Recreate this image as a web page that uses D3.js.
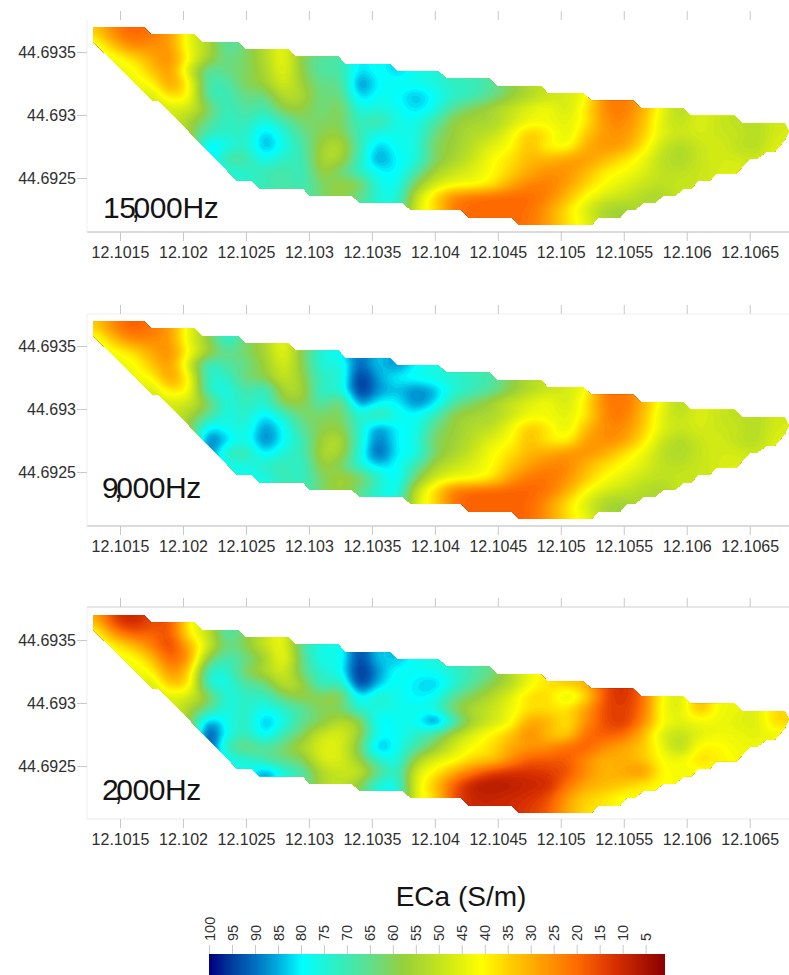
<!DOCTYPE html>
<html>
<head>
<meta charset="utf-8">
<script src="https://cdn.jsdelivr.net/npm/d3@7"></script>
<style>
html, body { margin: 0; padding: 0; background: #fff; overflow: hidden; }
text { font-family: "Liberation Sans", Arial, sans-serif; }
</style>
</head>
<body>
<div id="chart"></div>
<script>
// ticks
const lonTicks = [12.1015, 12.102, 12.1025, 12.103, 12.1035, 12.104, 12.1045, 12.105, 12.1055, 12.106, 12.1065];
const latTicks = [44.6935, 44.693, 44.6925];
const legendTicks = [100, 95, 90, 85, 80, 75, 70, 65, 60, 55, 50, 45, 40, 35, 30, 25, 20, 15, 10, 5];

// ECa readings on a regular grid. Each row only holds the cells in the field, rowStarts says where it begins
const gridLons = [12.1013, 12.10145, 12.1016, 12.10175, 12.1019, 12.10205, 12.1022, 12.10235, 12.1025, 12.10265, 12.1028, 12.10295, 12.1031,
  12.10325, 12.1034, 12.10355, 12.1037, 12.10385, 12.104, 12.10415, 12.1043, 12.10445, 12.1046, 12.10475, 12.1049, 12.10505, 12.1052,
  12.10535, 12.1055, 12.10565, 12.1058, 12.10595, 12.1061, 12.10625, 12.1064, 12.10655, 12.1067];
const gridLats = [44.69365, 44.69355, 44.69345, 44.69335, 44.69325, 44.69315, 44.69305, 44.69295, 44.69285, 44.69275, 44.69265, 44.69255,
  44.69245, 44.69235, 44.69225, 44.69215];
const rowStarts = [0, 0, 1, 2, 3, 3, 4, 5, 5, 6, 7, 7, 9, 14, 17, 23];

const eca15000 = [
  [36,24,19,22],
  [46,33,24,26,27,46,54,70],
  [44,38,30,24,42,56,66,62,54,42,62,68,68],
  [44,34,26,50,70,64,62,56,43,60,70,68,84,78,85,78,76],
  [42,26,40,72,70,60,58,46,58,66,64,92,80,78,78,76,72,72,68],
  [50,36,40,72,72,64,66,52,54,66,62,86,78,80,86,80,74,72,66,60,54,50,48,44],
  [48,48,60,74,66,72,58,58,66,58,78,76,78,84,78,66,60,56,50,46,42,50,38,24,22,30,44,55],
  [56,66,74,70,78,70,62,62,60,74,66,78,78,70,58,56,56,50,44,44,46,40,26,24,32,47,52,46,50,52],
  [58,72,74,72,86,76,66,60,58,72,78,78,78,64,58,54,52,44,33,38,48,34,27,26,34,46,50,47,50,50,54,48],
  [86,78,72,88,78,70,56,52,70,86,78,78,60,58,52,46,42,32,42,44,30,27,28,38,50,55,50,47,52,54,46],
  [66,68,80,72,72,54,54,72,90,80,78,62,56,50,42,38,32,32,28,27,32,38,44,52,56,50,48,48,50],
  [76,74,70,68,74,56,64,74,80,82,70,56,50,46,42,36,30,26,26,32,40,42,46,52,52,50,48,46],
  [72,68,72,62,58,58,78,80,60,48,44,44,40,30,24,23,28,36,42,46,50,52,50,50],
  [66,76,78,50,36,24,21,20,20,20,24,32,42,48,50,54,56],
  [46,38,22,20,20,20,21,28,38,48,56,58],
  [22,28,38,44]
];
const eca9000 = [
  [36,24,18,22],
  [46,33,24,25,27,46,58,78],
  [44,38,30,24,42,56,66,62,56,42,62,76,80],
  [44,34,26,50,76,68,66,58,46,60,78,74,94,82,90,80,78],
  [42,26,40,76,74,62,60,48,58,74,72,100,86,80,78,76,74,72,70],
  [50,36,40,76,78,68,76,54,54,76,74,100,88,84,90,86,76,72,68,60,54,50,48,44],
  [48,48,60,78,70,76,58,58,72,58,92,80,80,90,84,68,62,56,50,46,42,50,38,23,21,30,44,55],
  [56,66,78,72,84,74,62,62,60,76,66,78,80,72,58,56,56,50,44,44,46,40,24,22,32,47,52,46,50,52],
  [58,84,78,74,90,80,66,60,58,74,90,80,80,64,58,54,52,44,33,38,48,32,25,25,34,46,50,47,50,50,54,48],
  [94,84,76,92,80,72,56,52,74,92,80,78,60,58,52,46,42,32,40,42,28,25,27,38,50,55,50,47,52,54,46],
  [70,68,84,74,72,54,54,76,96,80,80,62,56,50,42,38,32,30,26,26,30,38,44,52,56,50,48,48,50],
  [78,78,72,70,76,56,62,76,84,80,70,56,50,46,42,34,28,24,24,32,38,42,46,52,52,50,48,46],
  [78,70,74,62,56,58,72,84,62,48,44,44,40,28,22,21,26,34,42,46,50,52,50,50],
  [66,76,80,50,36,22,19,19,19,19,22,30,42,48,50,54,56],
  [46,38,21,19,19,19,20,27,38,48,56,58],
  [20,27,38,44]
];
const eca2000 = [
  [32,14,9,16],
  [46,26,18,20,16,42,50,72],
  [42,34,24,13,30,48,66,60,50,42,70,78,76],
  [44,34,18,26,62,72,66,58,40,66,80,76,98,82,86,78,76],
  [42,24,34,76,76,60,54,46,66,74,78,100,88,78,80,78,74,70,66],
  [50,32,36,78,78,68,66,50,56,76,68,100,84,78,82,86,76,68,60,54,44,38,34,32],
  [46,48,58,78,72,74,62,58,60,56,84,72,78,82,80,66,60,54,46,36,36,50,38,16,11,20,42,50],
  [56,66,78,72,80,74,68,60,62,76,76,78,78,76,60,54,50,44,38,38,38,28,15,14,20,44,48,30,44,44],
  [58,90,78,70,88,78,66,62,52,56,84,78,78,95,74,56,50,44,28,30,40,26,16,12,24,42,46,44,44,46,48,36],
  [100,78,70,84,70,62,48,46,56,80,80,74,66,54,46,40,34,24,34,38,20,18,20,32,48,52,46,44,44,46,44],
  [68,62,68,62,54,46,46,62,90,78,70,60,48,42,38,30,28,26,20,18,26,30,34,44,56,40,40,44,44],
  [78,76,68,64,62,46,46,58,74,80,56,46,44,36,36,26,18,18,18,26,32,30,34,42,44,36,40,42],
  [90,76,70,54,50,48,64,76,46,40,30,22,14,12,12,14,16,26,32,30,24,42,42,44],
  [60,78,80,44,34,18,8,6,8,10,10,22,30,32,34,40,42],
  [44,38,16,10,10,11,12,16,28,36,38,44],
  [14,18,30,38]
];

// outline of the surveyed field
const fieldLons = [12.101288, 12.10169, 12.101744, 12.102087, 12.102148, 12.102439, 12.102492, 12.102836, 12.102889, 12.103233, 12.103286, 12.103643,
  12.103696, 12.104024, 12.104093, 12.104437, 12.10449, 12.104839, 12.104894, 12.105175, 12.105244, 12.105574, 12.105635, 12.105971, 12.106032, 12.106381,
  12.106439, 12.106778, 12.10681, 12.106778, 12.106698, 12.106633, 12.106553, 12.1065, 12.106394, 12.106236, 12.106183, 12.10609, 12.106037, 12.105979,
  12.105905, 12.105812, 12.105746, 12.105653, 12.105587, 12.105521, 12.105468, 12.105296, 12.105244, 12.104667, 12.104613, 12.10427, 12.104212, 12.10381,
  12.103748, 12.103405, 12.103344, 12.103008, 12.102955, 12.102606, 12.102545, 12.102431, 12.101812, 12.101764, 12.101288];
const fieldLats = [44.693696, 44.693696, 44.69364, 44.69364, 44.693579, 44.693579, 44.693521, 44.693521, 44.693463, 44.693463, 44.693405, 44.693405,
  44.693349, 44.693349, 44.693288, 44.693288, 44.69323, 44.69323, 44.693172, 44.693172, 44.693113, 44.693113, 44.693056, 44.693056, 44.692994, 44.692994,
  44.692936, 44.692936, 44.692867, 44.692802, 44.692709, 44.692709, 44.692651, 44.692651, 44.692537, 44.692537, 44.692479, 44.692479, 44.692418, 44.692418,
  44.69236, 44.69236, 44.692304, 44.692304, 44.692246, 44.692246, 44.692185, 44.692185, 44.692127, 44.692127, 44.692185, 44.692185, 44.692246, 44.692246,
  44.692304, 44.692304, 44.69236, 44.69236, 44.692418, 44.692418, 44.692479, 44.692479, 44.693113, 44.693113, 44.693582];

const colorStops = [100, 95, 90, 85, 80, 72, 65, 58, 50, 41, 35, 28, 20, 12, 1];
const colorValues = ["#00007f", "#00409f", "#0070c0", "#00b0e0", "#00ffff", "#30eec0", "#62de8c", "#96cf3c", "#c4e41c", "#ffff00", "#ffd000", "#ffa000", "#ff6a00", "#d83000", "#8b0000"];
const color = d3.scaleLinear().domain(colorStops).range(colorValues).clamp(true);

const width = 789, height = 975;
const svg = d3.select("#chart").append("svg")
  .attr("width", width)
  .attr("height", height)
  .style("display", "block");

const x = d3.scaleLinear().domain([12.1015, 12.1065]).range([120, 749.7]);

const panels = [
  {name: "f15000", values: eca15000, lat: [178, 52], label: "15,000Hz", labelX: 103, labelY: 218, top: 20, bottom: 232, topLine: "none", bottomLine: "#cfcfcf"},
  {name: "f9000", values: eca9000, lat: [472, 346], label: "9,000Hz", labelX: 102, labelY: 498, top: 314, bottom: 526, topLine: "#efefef", bottomLine: "#cfcfcf"},
  {name: "f2000", values: eca2000, lat: [766, 640], label: "2,000Hz", labelX: 102, labelY: 800, top: 607, bottom: 819, topLine: "#cfcfcf", bottomLine: "#f0f0f0"}
];

// cells off the field never show, they just take the value of the nearest field cell in the column
function fullGrid(rows) {
  const nr = gridLats.length, nc = gridLons.length;
  const cells = rows.map((row, r) => d3.range(nc).map(c => {
    const v = row[c - rowStarts[r]];
    return v === undefined ? null : v;
  }));
  for (let c = 0; c < nc; c++) {
    const filled = d3.range(nr).filter(r => cells[r][c] !== null);
    for (let r = 0; r < nr; r++) {
      if (cells[r][c] === null && filled.length) cells[r][c] = cells[d3.least(filled, f => Math.abs(f - r))][c];
    }
  }
  return cells;
}

// soften the grid so the contour bands look like the kriged surface
const k = 6;
function smoothGrid(rows) {
  const values = fullGrid(rows);
  const nr = gridLats.length, nc = gridLons.length;
  const w = (nc + 1) * k + 1, h = (nr + 1) * k + 1;
  const data = new Float64Array(w * h);
  for (let j = 0; j < h; j++) {
    const fr = Math.max(0, Math.min(nr - 1, j / k - 1));
    const r0 = Math.floor(fr), r1 = Math.min(nr - 1, r0 + 1), tr = fr - r0;
    for (let i = 0; i < w; i++) {
      const fc = Math.max(0, Math.min(nc - 1, i / k - 1));
      const c0 = Math.floor(fc), c1 = Math.min(nc - 1, c0 + 1), tc = fc - c0;
      data[j * w + i] = (1 - tr) * ((1 - tc) * values[r0][c0] + tc * values[r0][c1]) + tr * ((1 - tc) * values[r1][c0] + tc * values[r1][c1]);
    }
  }
  d3.blur2({data, width: w, height: h}, 1.5);
  return {data, w, h};
}

panels.forEach(function(p) {
  const y = d3.scaleLinear().domain([44.6925, 44.6935]).range(p.lat);
  const g = svg.append("g").attr("class", p.name);

  const clipId = "clip-" + p.name;
  g.append("clipPath").attr("id", clipId)
    .append("path")
    .attr("d", d3.line().x(d => x(d[0])).y(d => y(d[1]))(d3.zip(fieldLons, fieldLats)) + "Z");

  const grid = smoothGrid(p.values);
  const contours = d3.contours().size([grid.w, grid.h]).thresholds(d3.range(1, 101))(grid.data);
  const lonOf = d3.scaleLinear().domain([0, gridLons.length - 1]).range([gridLons[0], gridLons[gridLons.length - 1]]);
  const latOf = d3.scaleLinear().domain([0, gridLats.length - 1]).range([gridLats[0], gridLats[gridLats.length - 1]]);
  const path = d3.geoPath(d3.geoTransform({
    point: function(px, py) {
      this.stream.point(x(lonOf((px - 0.5) / k - 1)), y(latOf((py - 0.5) / k - 1)));
    }
  }));
  g.append("g").attr("clip-path", "url(#" + clipId + ")")
    .selectAll("path")
    .data(contours)
    .join("path")
    .attr("d", path)
    .attr("fill", d => color(d.value));

  // axes
  const bottom = g.append("g").attr("transform", "translate(0," + p.bottom + ")")
    .call(d3.axisBottom(x).tickValues(lonTicks).tickSize(9).tickFormat(d => d));
  bottom.select(".domain").attr("d", "M87,0H789").attr("stroke", p.bottomLine).attr("stroke-width", 1.5);
  bottom.selectAll("line").attr("stroke", "#c8c8c8");
  bottom.selectAll("text").attr("y", 26).attr("dy", 0).attr("font-size", 16).attr("fill", "#2f2f2f");

  const top = g.append("g").attr("transform", "translate(0," + p.top + ")")
    .call(d3.axisTop(x).tickValues(lonTicks).tickSize(9).tickFormat(""));
  top.select(".domain").attr("d", "M87,0H789").attr("stroke", p.topLine);
  top.selectAll("line").attr("stroke", "#c8c8c8");

  const left = g.append("g").attr("transform", "translate(87,0)")
    .call(d3.axisLeft(y).tickValues(latTicks).tickSize(10).tickFormat(d => d));
  left.select(".domain").attr("d", "M0," + p.top + "V" + p.bottom).attr("stroke", "#efefef");
  left.selectAll("line").attr("stroke", "#c8c8c8");
  left.selectAll("text").attr("x", -11).attr("font-size", 16).attr("fill", "#2f2f2f");

  // the comma sits tucked in between the digits
  const comma = p.label.indexOf(",");
  g.append("text")
    .attr("x", p.labelX)
    .attr("y", p.labelY)
    .attr("dx", d3.range(comma).map(() => 0).concat([-4, -6]).join(" "))
    .attr("font-size", 30)
    .attr("fill", "#141414")
    .attr("letter-spacing", -0.4)
    .text(p.label);
});

// legend
const legendX = d3.scaleLinear().domain([100, 1]).range([209, 664]);
svg.append("text")
  .attr("x", 461)
  .attr("y", 906)
  .attr("text-anchor", "middle")
  .attr("font-size", 28)
  .attr("fill", "#141414")
  .text("ECa (S/m)");

svg.append("g").selectAll("rect")
  .data(d3.range(1, 100, 0.5))
  .join("rect")
  .attr("x", d => legendX(d + 0.5))
  .attr("y", 954)
  .attr("width", legendX(1) - legendX(1.5) + 1)
  .attr("height", 21)
  .attr("fill", d => color(d + 0.25));

const legendAxis = svg.append("g").attr("transform", "translate(0,954)")
  .call(d3.axisTop(legendX).tickValues(legendTicks).tickSize(9).tickFormat(d => d));
legendAxis.select(".domain").remove();
legendAxis.selectAll("line").attr("stroke", "#c8c8c8");
legendAxis.selectAll("text")
  .attr("transform", "rotate(-90)")
  .attr("x", 13)
  .attr("y", 0)
  .attr("dy", "0.35em")
  .attr("text-anchor", "start")
  .attr("font-size", 14.5)
  .attr("fill", "#2f2f2f");
</script>
</body>
</html>
